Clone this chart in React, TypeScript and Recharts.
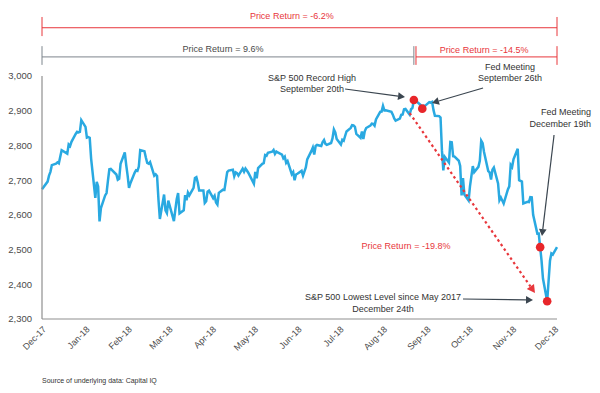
import React from "react";
import { LineChart, Line, XAxis, YAxis, ReferenceLine, ReferenceDot } from "recharts";

// ---------- DATA ----------
const tradingDates: string[] = [
  "2017-12-29",
  "2018-01-02","2018-01-03","2018-01-04","2018-01-05","2018-01-08","2018-01-09","2018-01-10","2018-01-11","2018-01-12",
  "2018-01-16","2018-01-17","2018-01-18","2018-01-19","2018-01-22","2018-01-23","2018-01-24","2018-01-25","2018-01-26",
  "2018-01-29","2018-01-30","2018-01-31",
  "2018-02-01","2018-02-02","2018-02-05","2018-02-06","2018-02-07","2018-02-08","2018-02-09","2018-02-12","2018-02-13",
  "2018-02-14","2018-02-15","2018-02-16","2018-02-20","2018-02-21","2018-02-22","2018-02-23","2018-02-26","2018-02-27","2018-02-28",
  "2018-03-01","2018-03-02","2018-03-05","2018-03-06","2018-03-07","2018-03-08","2018-03-09","2018-03-12","2018-03-13",
  "2018-03-14","2018-03-15","2018-03-16","2018-03-19","2018-03-20","2018-03-21","2018-03-22","2018-03-23","2018-03-26",
  "2018-03-27","2018-03-28","2018-03-29",
  "2018-04-02","2018-04-03","2018-04-04","2018-04-05","2018-04-06","2018-04-09","2018-04-10","2018-04-11","2018-04-12",
  "2018-04-13","2018-04-16","2018-04-17","2018-04-18","2018-04-19","2018-04-20","2018-04-23","2018-04-24","2018-04-25",
  "2018-04-26","2018-04-27","2018-04-30",
  "2018-05-01","2018-05-02","2018-05-03","2018-05-04","2018-05-07","2018-05-08","2018-05-09","2018-05-10","2018-05-11",
  "2018-05-14","2018-05-15","2018-05-16","2018-05-17","2018-05-18","2018-05-21","2018-05-22","2018-05-23","2018-05-24",
  "2018-05-25","2018-05-29","2018-05-30","2018-05-31",
  "2018-06-01","2018-06-04","2018-06-05","2018-06-06","2018-06-07","2018-06-08","2018-06-11","2018-06-12","2018-06-13",
  "2018-06-14","2018-06-15","2018-06-18","2018-06-19","2018-06-20","2018-06-21","2018-06-22","2018-06-25","2018-06-26",
  "2018-06-27","2018-06-28","2018-06-29",
  "2018-07-02","2018-07-03","2018-07-05","2018-07-06","2018-07-09","2018-07-10","2018-07-11","2018-07-12","2018-07-13",
  "2018-07-16","2018-07-17","2018-07-18","2018-07-19","2018-07-20","2018-07-23","2018-07-24","2018-07-25","2018-07-26",
  "2018-07-27","2018-07-30","2018-07-31",
  "2018-08-01","2018-08-02","2018-08-03","2018-08-06","2018-08-07","2018-08-08","2018-08-09","2018-08-10","2018-08-13",
  "2018-08-14","2018-08-15","2018-08-16","2018-08-17","2018-08-20","2018-08-21","2018-08-22","2018-08-23","2018-08-24",
  "2018-08-27","2018-08-28","2018-08-29","2018-08-30","2018-08-31",
  "2018-09-04","2018-09-05","2018-09-06","2018-09-07","2018-09-10","2018-09-11","2018-09-12","2018-09-13","2018-09-14",
  "2018-09-17","2018-09-18","2018-09-19","2018-09-20","2018-09-21","2018-09-24","2018-09-25","2018-09-26","2018-09-27","2018-09-28",
  "2018-10-01","2018-10-02","2018-10-03","2018-10-04","2018-10-05","2018-10-08","2018-10-09","2018-10-10","2018-10-11",
  "2018-10-12","2018-10-15","2018-10-16","2018-10-17","2018-10-18","2018-10-19","2018-10-22","2018-10-23","2018-10-24",
  "2018-10-25","2018-10-26","2018-10-29","2018-10-30","2018-10-31",
  "2018-11-01","2018-11-02","2018-11-05","2018-11-06","2018-11-07","2018-11-08","2018-11-09","2018-11-12","2018-11-13",
  "2018-11-14","2018-11-15","2018-11-16","2018-11-19","2018-11-20","2018-11-21","2018-11-23","2018-11-26","2018-11-27",
  "2018-11-28","2018-11-29","2018-11-30",
  "2018-12-03","2018-12-04","2018-12-06","2018-12-07","2018-12-10","2018-12-11","2018-12-12","2018-12-13","2018-12-14",
  "2018-12-17","2018-12-18","2018-12-19","2018-12-20","2018-12-21","2018-12-24","2018-12-26","2018-12-27","2018-12-28","2018-12-31",
];

const closeValues: number[] = [
  2673.61,
  2695.81,2713.06,2723.99,2743.15,2747.71,2751.29,2748.23,2767.56,2786.24,
  2776.42,2802.56,2798.03,2810.30,2832.97,2839.13,2837.54,2839.25,2872.87,
  2853.53,2822.43,2823.81,
  2821.98,2762.13,2648.94,2695.14,2681.66,2581.00,2619.55,2656.00,2662.94,
  2698.63,2731.20,2732.22,2716.26,2701.33,2703.96,2747.30,2779.60,2744.28,2713.83,
  2677.67,2691.25,2720.94,2728.12,2726.80,2738.97,2786.57,2783.02,2765.31,
  2749.48,2747.33,2752.01,2712.92,2716.94,2711.93,2643.69,2588.26,2658.55,
  2612.62,2605.00,2640.87,
  2581.88,2614.45,2644.69,2662.84,2604.47,2613.16,2656.87,2642.19,2663.99,
  2656.30,2677.84,2706.39,2708.64,2693.13,2670.14,2670.29,2634.56,2639.40,
  2666.94,2669.91,2648.05,
  2654.80,2635.67,2629.73,2663.42,2672.63,2671.92,2697.79,2723.07,2727.72,
  2730.13,2711.45,2722.46,2720.13,2712.97,2733.01,2724.44,2733.29,2727.76,
  2721.33,2689.86,2724.01,2705.27,
  2734.62,2746.87,2748.80,2772.35,2770.37,2779.03,2782.00,2786.85,2775.63,
  2782.49,2779.66,2773.75,2762.59,2767.32,2749.76,2754.88,2717.07,2723.06,
  2699.63,2716.31,2718.37,
  2726.71,2713.22,2736.61,2759.82,2784.17,2793.84,2774.02,2798.29,2801.31,
  2798.43,2809.55,2815.62,2804.49,2801.83,2806.98,2820.40,2846.07,2837.44,
  2818.82,2802.60,2816.29,
  2813.36,2827.22,2840.35,2850.40,2858.45,2857.70,2853.58,2833.28,2821.93,
  2839.96,2818.37,2840.69,2850.13,2857.05,2862.96,2861.82,2856.98,2874.69,
  2896.74,2897.52,2914.04,2901.13,2901.52,
  2896.72,2888.60,2878.05,2871.68,2877.13,2887.89,2888.92,2904.18,2904.98,
  2888.80,2904.31,2907.95,2930.75,2929.67,2919.37,2915.56,2905.97,2914.00,2913.98,
  2924.59,2923.43,2925.51,2901.61,2885.57,2884.43,2880.34,2785.68,2728.37,
  2767.13,2750.79,2809.92,2809.21,2768.78,2767.78,2755.88,2740.69,2656.10,
  2705.57,2658.69,2641.25,2682.63,2711.74,
  2740.37,2723.06,2738.31,2755.45,2813.89,2806.83,2781.01,2726.22,2722.18,
  2701.58,2730.20,2736.27,2690.73,2641.89,2649.93,2632.56,2673.45,2682.17,
  2743.79,2737.80,2760.17,
  2790.37,2700.06,2695.95,2633.08,2637.72,2636.78,2651.07,2650.54,2599.95,
  2545.94,2546.16,2506.96,2467.42,2416.62,2351.10,2467.70,2488.83,2485.74,2506.85,
];

const tickDates: string[] = [
  "2017-12-29","2018-01-29","2018-02-28","2018-03-29","2018-04-29","2018-05-29","2018-06-29",
  "2018-07-29","2018-08-29","2018-09-29","2018-10-29","2018-11-29","2018-12-29",
];
const tickLabels: string[] = [
  "Dec-17","Jan-18","Feb-18","Mar-18","Apr-18","May-18","Jun-18",
  "Jul-18","Aug-18","Sep-18","Oct-18","Nov-18","Dec-18",
];
const yTicks: number[] = [2300, 2400, 2500, 2600, 2700, 2800, 2900, 3000];

const highlightDates: string[] = ["2018-09-20", "2018-09-26", "2018-12-19", "2018-12-24"];

// ---------- HELPERS ----------
const BASE = Date.UTC(2017, 11, 29);
const toDay = (iso: string) => {
  const [y, m, d] = iso.split("-").map(Number);
  return Math.round((Date.UTC(y, m - 1, d) - BASE) / 86400000);
};

const data = tradingDates.map((d, i) => ({ day: toDay(d), close: closeValues[i] }));
const xTicks = tickDates.map(toDay);
const lastDay = toDay(tradingDates[tradingDates.length - 1]);
const highlights = highlightDates.map((d) => ({ day: toDay(d), close: closeValues[tradingDates.indexOf(d)] }));

const FONT = "'Liberation Sans', Arial, Helvetica, sans-serif";
const RED = "#e8363b";
const BLUE = "#29a9e1";
const GRAY_TXT = "#4a4a4a";
const DARK = "#3b4650";
const AXIS = "#8f8f8f";

const XTick = (props: any) => {
  const { x, y, payload } = props;
  const idx = xTicks.indexOf(payload.value);
  return (
    <g transform={`translate(${x + 3},${y})`}>
      <text x={0} y={0} dy="0.3em" textAnchor="end" transform="rotate(-45)"
        fontFamily={FONT} fontSize={9} fill={GRAY_TXT}>
        {tickLabels[idx]}
      </text>
    </g>
  );
};

const textShape = (lines: string[], color: string, anchor: string, size = 9) => (p: any) => (
  <text x={p.cx} y={p.cy} textAnchor={anchor} fontFamily={FONT} fontSize={size} fill={color}>
    {lines.map((l, i) => (
      <tspan key={i} x={p.cx} dy={i === 0 ? 0 : 11.5}>{l}</tspan>
    ))}
  </text>
);

const arrowShape = (color: string, dashed: boolean, width: number, head: number) => (p: any) => {
  const { x1, y1, x2, y2 } = p;
  const ang = Math.atan2(y2 - y1, x2 - x1);
  const bx = x2 - head * Math.cos(ang);
  const by = y2 - head * Math.sin(ang);
  const hw = head * 0.55;
  const px = -Math.sin(ang) * hw;
  const py = Math.cos(ang) * hw;
  return (
    <g>
      <line x1={x1} y1={y1} x2={bx} y2={by} stroke={color} strokeWidth={width}
        strokeDasharray={dashed ? "2.5 3" : undefined} />
      <polygon points={`${x2},${y2} ${bx + px},${by + py} ${bx - px},${by - py}`} fill={color} />
    </g>
  );
};

const plainLine = (color: string, w = 1) => (p: any) => (
  <line x1={p.x1} y1={p.y1} x2={p.x2} y2={p.y2} stroke={color} strokeWidth={w} />
);

export default function App() {
  const seg = (x1: number, y1: number, x2: number, y2: number, color: string, key: string) => (
    <ReferenceLine key={key} segment={[{ x: x1, y: y1 }, { x: x2, y: y2 }]} ifOverflow="visible"
      shape={plainLine(color)} />
  );
  const label = (x: number, y: number, lines: string[], color: string, anchor: string, key: string, size = 9) => (
    <ReferenceDot key={key} x={x} y={y} r={0} ifOverflow="visible" shape={textShape(lines, color, anchor, size)} />
  );
  const arrow = (x1: number, y1: number, x2: number, y2: number, color: string, key: string, dashed = false, w = 1.2, head = 7) => (
    <ReferenceLine key={key} segment={[{ x: x1, y: y1 }, { x: x2, y: y2 }]} ifOverflow="visible"
      shape={arrowShape(color, dashed, w, head)} />
  );
  const splitDay = highlights[0].day;

  return (
    <div style={{ width: 600, height: 393, background: "#fff" }}>
      <style>{"body{margin:0;background:#fff;}"}</style>
      <LineChart width={600} height={393} data={data} margin={{ top: 76, right: 43, left: 0, bottom: 34 }}>
        <XAxis dataKey="day" type="number" domain={[0, lastDay]} ticks={xTicks} interval={0}
          tick={<XTick />} tickLine={false} tickSize={0} tickMargin={9} height={40}
          axisLine={{ stroke: AXIS, strokeWidth: 1.2 }} />
        <YAxis type="number" domain={[2300, 3000]} ticks={yTicks} width={42} tickLine={false} tickSize={0}
          tickMargin={10} axisLine={{ stroke: AXIS, strokeWidth: 1.2 }}
          tickFormatter={(v: number) => v.toLocaleString("en-US")}
          tick={{ fontFamily: FONT, fontSize: 9.5, fill: GRAY_TXT }} />
        <Line dataKey="close" type="linear" stroke={BLUE} strokeWidth={2.5} dot={false} isAnimationActive={false} />

        {/* top brackets */}
        {seg(0, 3139, lastDay, 3139, RED, "r1")}
        {seg(0, 3170, 0, 3115, RED, "r1a")}
        {seg(lastDay, 3170, lastDay, 3115, RED, "r1b")}
        {seg(0, 3055, splitDay, 3055, "#7d858c", "g1")}
        {seg(0, 3086, 0, 3032, "#7d858c", "g1a")}
        {seg(splitDay, 3086, splitDay, 3032, "#7d858c", "g1b")}
        {seg(splitDay + 1.5, 3055, lastDay, 3055, RED, "r2")}
        {seg(splitDay + 1.5, 3086, splitDay + 1.5, 3032, RED, "r2a")}
        {seg(lastDay, 3086, lastDay, 3032, RED, "r2b")}
        {label(178, 3164, ["Price Return =  -6.2%"], RED, "middle", "t1")}
        {label(129, 3068, ["Price Return =  9.6%"], GRAY_TXT, "middle", "t2")}
        {label(315, 3066, ["Price Return =  -14.5%"], RED, "middle", "t3")}

        {/* annotations */}
        {arrow(262, 2893, 351.3, 2375, RED, "ret", true, 2.2, 8)}
        {arrow(216, 2962.5, 258.7, 2939.5, DARK, "a1")}
        {arrow(314.3, 2965.4, 277.9, 2922.2, DARK, "a2")}
        {arrow(364.9, 2830, 356.3, 2539, DARK, "a3")}
        {arrow(300, 2357.6, 349.9, 2354.7, DARK, "a4")}

        {label(192.4, 2985.6, ["S&P 500  Record High", "September 20th"], "#333", "middle", "l1")}
        {label(333.5, 3017.3, ["Fed Meeting", "September 26th"], "#333", "middle", "l2")}
        {label(391.2, 2887.6, ["Fed Meeting", "December 19th"], "#333", "end", "l3")}
        {label(259.4, 2501.6, ["Price Return = -19.8%"], RED, "middle", "l4")}
        {label(243, 2354.7, ["S&P 500 Lowest Level since May 2017", "December 24th"], "#333", "middle", "l5")}
        {label(0, 2115, ["Source of underlying data: Capital IQ"], "#333", "start", "src", 7)}

        {highlights.map((h, i) => (
          <ReferenceDot key={`h${i}`} x={h.day} y={h.close} r={4.3} fill="#e8262a" stroke="none" ifOverflow="visible" />
        ))}
      </LineChart>
    </div>
  );
}
